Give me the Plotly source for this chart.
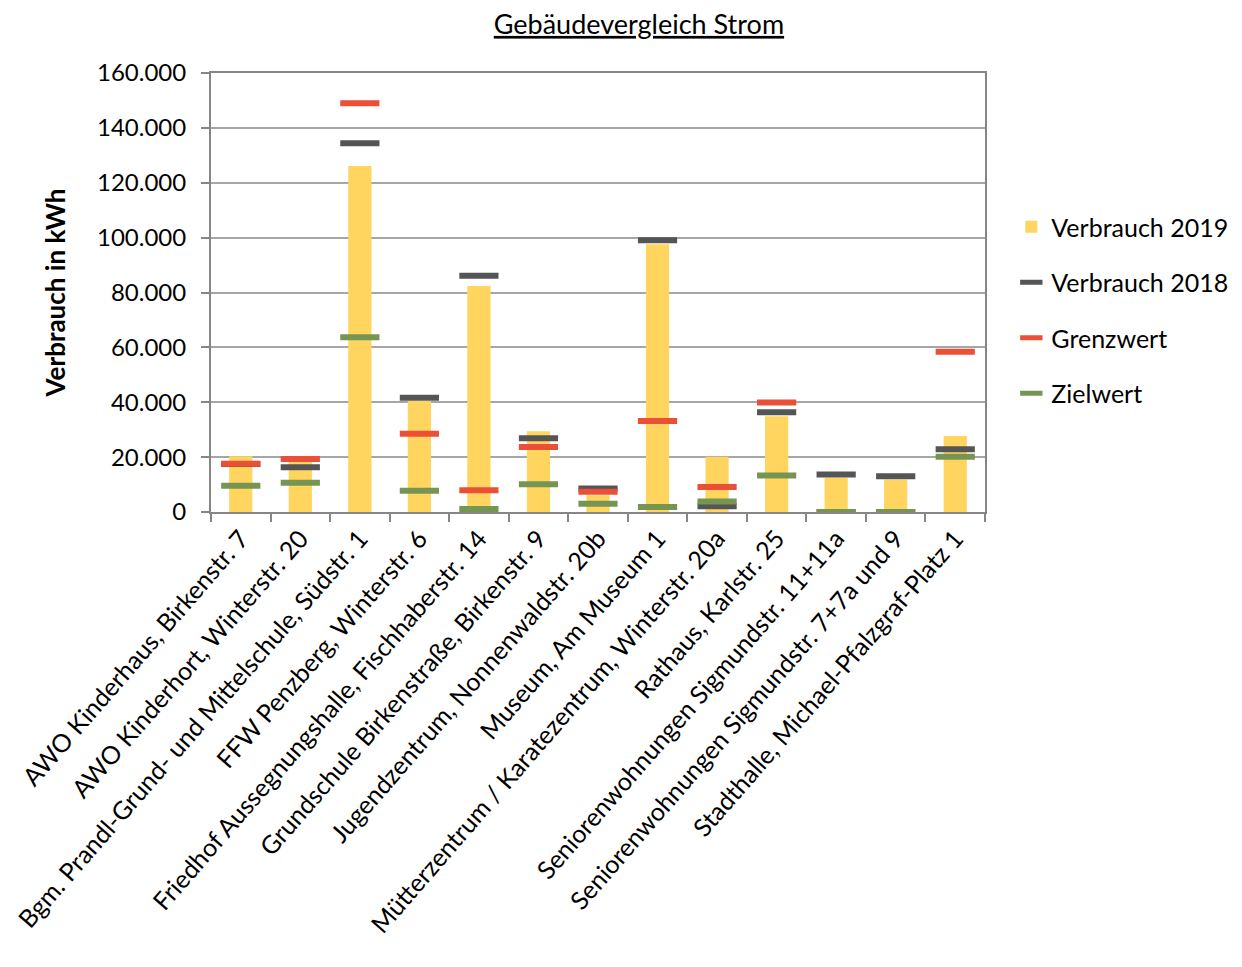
import plotly.graph_objects as go

categories = [
    "AWO Kinderhaus, Birkenstr. 7",
    "AWO Kinderhort, Winterstr. 20",
    "Bgm. Prandl-Grund- und Mittelschule, Südstr. 1",
    "FFW Penzberg, Winterstr. 6",
    "Friedhof Aussegnungshalle, Fischhaberstr. 14",
    "Grundschule Birkenstraße, Birkenstr. 9",
    "Jugendzentrum, Nonnenwaldstr. 20b",
    "Museum, Am Museum 1",
    "Mütterzentrum / Karatezentrum, Winterstr. 20a",
    "Rathaus, Karlstr. 25",
    "Seniorenwohnungen Sigmundstr. 11+11a",
    "Seniorenwohnungen Sigmundstr. 7+7a und 9",
    "Stadthalle, Michael-Pfalzgraf-Platz 1",
]
verbrauch_2019 = [20300, 18300, 126100, 40500, 82400, 29400, 6100, 97600, 20100, 34900, 12500, 11800, 27700]
verbrauch_2018 = [17500, 16300, 134400, 41600, 86100, 26900, 8600, 99000, 2100, 36400, 13700, 13000, 22900]
grenzwert = [17600, 19300, 149000, 28500, 7900, 23700, 7400, 33200, 9100, 39900, 0, 0, 58400]
zielwert = [9600, 10700, 63700, 7700, 1100, 10100, 3000, 1800, 3800, 13300, 0, 0, 20100]
y_ticks = [0, 20000, 40000, 60000, 80000, 100000, 120000, 140000, 160000]

FONT = "Lato, Carlito, 'Open Sans', sans-serif"

fig = go.Figure()
fig.add_trace(go.Bar(
    x=categories, y=verbrauch_2019, name="Verbrauch 2019",
    marker=dict(color="#FFD55F", line=dict(width=0)), width=0.39,
    legendgroup="a",
))


def dash(vals, name, color, grp):
    return go.Scatter(
        x=categories, y=vals, name=name, mode="markers", legendgroup=grp,
        marker=dict(symbol="line-ew", size=28, color=color,
                    line=dict(color=color, width=6)),
    )


fig.add_trace(dash(verbrauch_2018, "Verbrauch 2018", "#555555", "b"))
fig.add_trace(dash(grenzwert, "Grenzwert", "#EB4F36", "c"))
fig.add_trace(dash(zielwert, "Zielwert", "#779552", "d"))

fig.update_layout(
    width=1242, height=967,
    margin=dict(l=203, r=265, t=65, b=463, autoexpand=False),
    paper_bgcolor="white", plot_bgcolor="white",
    separators=",.",
    font=dict(family=FONT, size=24, color="#000000"),
    title=dict(text="<u>Gebäudevergleich Strom</u>", x=0.508, xanchor="center",
               y=0.983, yanchor="middle", font=dict(size=27, family=FONT)),
    showlegend=True,
    legend=dict(x=1.034, xanchor="left", y=0.46, yanchor="middle",
                font=dict(size=25, family=FONT), tracegroupgap=20,
                bgcolor="rgba(0,0,0,0)"),
    bargap=0.61,
)
fig.update_xaxes(
    type="category", range=[-0.5, 12.5], tickangle=-49,
    tickfont=dict(size=25, family=FONT),
    showline=True, linecolor="#868686", linewidth=2, mirror=True,
    ticks="outside", tickson="boundaries", ticklen=8, tickcolor="#868686", tickwidth=1.5,
    showgrid=False,
)
fig.update_yaxes(
    range=[0, 160000], tickvals=y_ticks, tickformat=",d",
    tickfont=dict(size=24, family=FONT), ticklabelstandoff=10,
    title=dict(text="<b>Verbrauch in kWh</b>", font=dict(size=26, family=FONT), standoff=24),
    showline=True, linecolor="#868686", linewidth=2, mirror=True,
    ticks="outside", ticklen=8, tickcolor="#868686", tickwidth=1.5,
    showgrid=True, gridcolor="#A6A6A6", gridwidth=1.5,
    zeroline=False,
)

fig.write_html("out.html")
